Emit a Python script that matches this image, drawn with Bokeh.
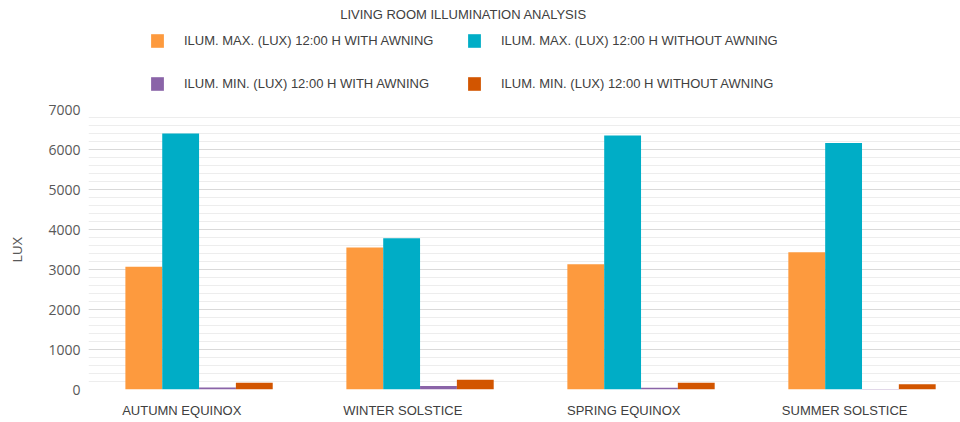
from bokeh.plotting import figure
from bokeh.layouts import column
from bokeh.models import Range1d, FixedTicker, Legend, LegendItem, Label
from bokeh.embed import file_html
from bokeh.resources import INLINE

categories = ["AUTUMN EQUINOX", "WINTER SOLSTICE", "SPRING EQUINOX", "SUMMER SOLSTICE"]
series_names = [
    "ILUM. MAX. (LUX) 12:00 H WITH AWNING",
    "ILUM. MAX. (LUX) 12:00 H WITHOUT AWNING",
    "ILUM. MIN. (LUX) 12:00 H WITH AWNING",
    "ILUM. MIN. (LUX) 12:00 H WITHOUT AWNING",
]
max_with_awning = [3070, 3550, 3130, 3430]
max_without_awning = [6400, 3780, 6350, 6165]
min_with_awning = [50, 85, 45, 15]
min_without_awning = [168, 245, 170, 130]
series_values = [max_with_awning, max_without_awning, min_with_awning, min_without_awning]
colors = ["#FD9A3E", "#00ADC6", "#8A64A8", "#D25500"]
y_ticks = [0, 1000, 2000, 3000, 4000, 5000, 6000, 7000]
title_text = "LIVING ROOM ILLUMINATION ANALYSIS"

bar_w = 0.1667
offsets = [0.0833, 0.25, 0.4167, 0.5833]
label_offset = 0.255

# ---------- header: title + legend ----------
HH = 99
head = figure(width=960, height=HH, output_backend="svg", toolbar_location=None,
              x_range=Range1d(88, 960), y_range=Range1d(0, HH),
              x_axis_location=None, y_axis_location=None,
              min_border=0, min_border_left=0, min_border_right=0,
              min_border_top=0, min_border_bottom=0)
head.outline_line_color = None
head.grid.visible = False
head.background_fill_color = "white"
head.border_fill_color = "white"

dummy = []
for col in colors:
    dummy.append(head.vbar(x=[-100], top=[-100], bottom=[-200], width=1,
                           fill_color=col, line_color=None))

def make_legend(idx, y):
    return Legend(items=[LegendItem(label=series_names[k], renderers=[dummy[k]]) for k in idx],
                  orientation="horizontal", location=(61, y),
                  glyph_width=16, glyph_height=17, label_standoff=19, spacing=26,
                  label_width=256, label_height=17, padding=0, margin=0,
                  border_line_color=None, background_fill_alpha=0,
                  label_text_font="Liberation Sans", label_text_font_size="13px",
                  label_text_color="#404040")

head.add_layout(make_legend([0, 1], 50))
head.add_layout(make_legend([2, 3], 7))
head.add_layout(Label(x=463, y=HH - 14, text=title_text, text_align="center",
                      text_baseline="middle", text_font="Liberation Sans",
                      text_font_size="13px", text_color="#404040"))

# ---------- main chart ----------
p = figure(width=960, height=422 - HH, output_backend="svg", toolbar_location=None,
           x_range=Range1d(-0.167, 3.779), y_range=Range1d(0, 7000),
           min_border_left=88, min_border_right=0, min_border_bottom=33, min_border_top=10)
p.outline_line_color = None
p.background_fill_color = "white"
p.border_fill_color = "white"

x_idx = list(range(len(categories)))
for vals, off, col in zip(series_values, offsets, colors):
    p.vbar(x=[i + off for i in x_idx], top=vals, width=bar_w, fill_color=col, line_color=None)

tick_pos = [i + label_offset for i in x_idx]
p.xaxis.ticker = FixedTicker(ticks=tick_pos)
p.xaxis.major_label_overrides = {t: c for t, c in zip(tick_pos, categories)}
p.xaxis.axis_line_color = None
p.xaxis.major_tick_line_color = None
p.xaxis.minor_tick_line_color = None
p.xaxis.major_label_standoff = 7
p.xaxis.major_label_text_font = "Liberation Sans"
p.xaxis.major_label_text_font_size = "13px"
p.xaxis.major_label_text_color = "#404040"
p.xgrid.grid_line_color = None

p.yaxis.ticker = FixedTicker(ticks=y_ticks, minor_ticks=list(range(0, 7001, 200)))
p.yaxis.axis_line_color = None
p.yaxis.major_tick_line_color = None
p.yaxis.minor_tick_line_color = None
p.yaxis.major_label_standoff = 2
p.yaxis.major_label_text_font = "Open Sans"
p.yaxis.major_label_text_font_size = "14px"
p.yaxis.major_label_text_color = "#595959"
p.yaxis.axis_label = "LUX"
p.yaxis.axis_label_text_font = "Liberation Sans"
p.yaxis.axis_label_text_font_style = "normal"
p.yaxis.axis_label_text_font_size = "13px"
p.yaxis.axis_label_text_color = "#595959"
p.yaxis.axis_label_standoff = 20
p.ygrid.grid_line_color = "#D9D9D9"
p.ygrid.minor_grid_line_color = "#EDEDED"

layout = column(head, p, spacing=0)
open("out.html", "w").write(file_html(layout, INLINE))
